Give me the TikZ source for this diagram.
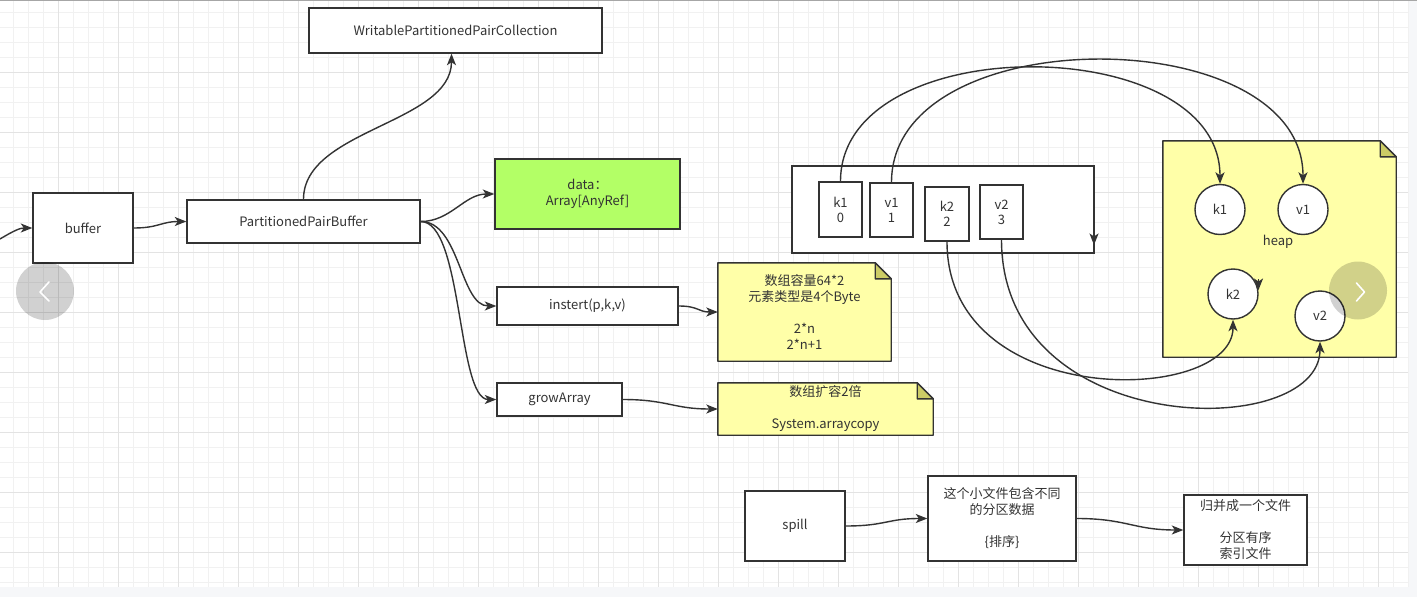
\documentclass[tikz,border=0pt]{standalone}
\usepackage{fontspec}
\setmainfont{Noto Sans CJK SC}
\usetikzlibrary{arrows.meta}
\definecolor{ink}{HTML}{333333}
\definecolor{gridminor}{HTML}{F1F1F1}
\definecolor{gridmajor}{HTML}{E3E3E3}
\definecolor{outside}{HTML}{F6F7F9}
\definecolor{notey}{HTML}{FFFFA8}
\definecolor{foldy}{HTML}{CCCC66}
\definecolor{greenfill}{HTML}{B3FF66}
\tikzset{
  box/.style={draw=ink, line width=1.4pt, fill=white, text=ink, inner sep=0pt,
    align=center, font=\fontsize{13}{16}\selectfont},
  cell/.style={box, font=\fontsize{13}{15}\selectfont},
  notebody/.style={draw=none, fill=none, text=ink, inner sep=0pt, align=center,
    font=\fontsize{13}{16}\selectfont},
  heapcirc/.style={draw=ink, line width=1.4pt, fill=white, text=ink, circle,
    inner sep=0pt, minimum size=50pt, font=\fontsize{13}{16}\selectfont},
  conn/.style={draw=ink, line width=1.4pt,
    -{Stealth[length=11.5pt,width=9pt,inset=3pt]}},
  navbtn/.style={fill=black, opacity=0.18},
  chev/.style={draw=white, line width=1.6pt, line cap=round, line join=round}
}
\newcommand{\drawnote}[1]{%
  \path[draw=ink, fill=notey, line width=1.4pt, line join=round]
    (#1.north west) -- ([xshift=-16pt]#1.north east) -- ([yshift=-16pt]#1.north east)
    -- (#1.south east) -- (#1.south west) -- cycle;
  \path[draw=ink, fill=foldy, line width=1.4pt, line join=round]
    ([xshift=-16pt]#1.north east) -- ([xshift=-16pt,yshift=-16pt]#1.north east)
    -- ([yshift=-16pt]#1.north east) -- cycle;
}
\begin{document}
\begin{tikzpicture}[x=1pt,y=-1pt]
\useasboundingbox (0,0) rectangle (1417,597);
% background and grid
\fill[outside] (0,0) rectangle (1417,597);
\fill[white] (0,1) rectangle (1408,587);
\foreach \i in {0,...,93} {\draw[gridminor, line width=1pt] ({13.3+15*\i},1) -- ({13.3+15*\i},587);}
\foreach \i in {0,...,38} {\draw[gridminor, line width=1pt] (0,{12.3+15*\i}) -- (1408,{12.3+15*\i});}
\foreach \i in {0,...,22} {\draw[gridmajor, line width=1pt] ({58.3+60*\i},1) -- ({58.3+60*\i},587);}
\foreach \i in {0,...,8} {\draw[gridmajor, line width=1pt] (0,{72.3+60*\i}) -- (1408,{72.3+60*\i});}
\draw[gray!70, line width=1.2pt] (0,0.6) -- (1417,0.6);

% left part
\node[box, minimum width=100pt, minimum height=70pt] (buffer) at (83,228) {buffer};
\node[box, minimum width=233pt, minimum height=43pt] (ppb) at (303.5,221.5) {PartitionedPairBuffer};
\node[box, minimum width=293pt, minimum height=45pt] (wppc) at (455.5,30.5) {WritablePartitionedPairCollection};
\node[box, fill=greenfill, minimum width=185pt, minimum height=70pt] (data) at (587.5,194) {data：\\Array[AnyRef]};
\node[box, minimum width=181pt, minimum height=38pt] (ins) at (587.5,306) {instert(p,k,v)};
\node[box, minimum width=125pt, minimum height=33pt] (grow) at (559.5,399.5) {growArray};

\node[notebody, minimum width=173pt, minimum height=98pt] (note1) at (804.5,312) {};
\drawnote{note1}
\node[notebody] at (note1.center) {数组容量64*2\\元素类型是4个Byte\\\mbox{}\\2*n\\2*n+1};
\node[notebody, minimum width=215pt, minimum height=52pt] (note2) at (825.5,409) {};
\drawnote{note2}
\node[notebody] at (note2.center) {数组扩容2倍\\\mbox{}\\System.arraycopy};

% array and heap
\node[box, minimum width=302pt, minimum height=87pt] (arr) at (943,209.5) {};
\node[cell, minimum width=43pt, minimum height=55pt] (k1) at (840.5,209.5) {k1\\0};
\node[cell, minimum width=43pt, minimum height=54pt] (v1) at (891.5,210) {v1\\1};
\node[cell, minimum width=44pt, minimum height=54pt] (k2) at (947,214) {k2\\2};
\node[cell, minimum width=43pt, minimum height=54pt] (v2) at (1001.5,212) {v2\\3};

\node[notebody, minimum width=233pt, minimum height=216pt] (heap) at (1279.5,249) {};
\drawnote{heap}
\node[notebody] (heaplabel) at (1278,242) {heap};
\node[heapcirc] (hk1) at (1220,209.5) {k1};
\node[heapcirc] (hv1) at (1303,209.5) {v1};
\node[heapcirc] (hk2) at (1233,294) {k2};
\node[heapcirc] (hv2) at (1320,316) {v2};

% bottom
\node[box, minimum width=100pt, minimum height=70pt] (spill) at (795,526) {spill};
\node[box, minimum width=148pt, minimum height=85pt] (small) at (1002,518.5) {这个小文件包含不同\\的分区数据\\\mbox{}\\\{排序\}};
\node[box, minimum width=123pt, minimum height=70pt] (merge) at (1245.5,530) {归并成一个文件\\\mbox{}\\分区有序\\索引文件};

% connectors
\coordinate (in0) at (0,239);
\draw[conn] (in0) .. controls +(15,-9) and +(-12,0) .. (buffer.west);
\draw[conn] (buffer.east) .. controls +(25,0) and +(-25,0) .. (ppb.west);
\draw[conn] (ppb.north) .. controls +(0,-70) and +(0,70) .. ([xshift=-4pt]wppc.south);
\draw[conn] (ppb.east) .. controls +(30,0) and +(-30,0) .. (data.west);
\draw[conn] (ppb.east) .. controls (460,221.5) and (460,306) .. (ins.west);
\draw[conn] (ppb.east) .. controls (463,221.5) and (457,399.5) .. (grow.west);
\draw[conn] (ins.east) .. controls +(20,0) and +(-20,0) .. (note1.west);
\draw[conn] (grow.east) .. controls +(45,0) and +(-45,0) .. (note2.west);

\draw[conn] (k1.north) .. controls +(0,-153) and +(0,-153) .. (hk1.north);
\draw[conn] (v1.north) .. controls +(0,-164) and +(0,-164) .. (hv1.north);
\draw[conn] (k2.south) .. controls +(0,170) and +(0,85) .. (hk2.south);
\draw[conn] (v2.south) .. controls +(0,200) and +(0,100) .. (hv2.south);

\coordinate (s1a) at (1094,232);
\coordinate (s1b) at (1094,245);
\draw[conn] (s1a) -- (s1b);
\coordinate (s2a) at (1258.5,279);
\coordinate (s2b) at (1258.5,290);
\draw[conn] (s2a) -- (s2b);

\draw[conn] (spill.east) .. controls +(40,0) and +(-40,0) .. (small.west);
\draw[conn] (small.east) .. controls +(50,0) and +(-50,0) .. (merge.west);

% navigation overlays
\fill[navbtn] (45,291) circle (29);
\draw[chev] (49,282) -- (40,292) -- (49,301);
\fill[navbtn] (1358,290.5) circle (29);
\draw[chev] (1356.5,283) -- (1364.5,292) -- (1356.5,301);
\end{tikzpicture}
\end{document}
